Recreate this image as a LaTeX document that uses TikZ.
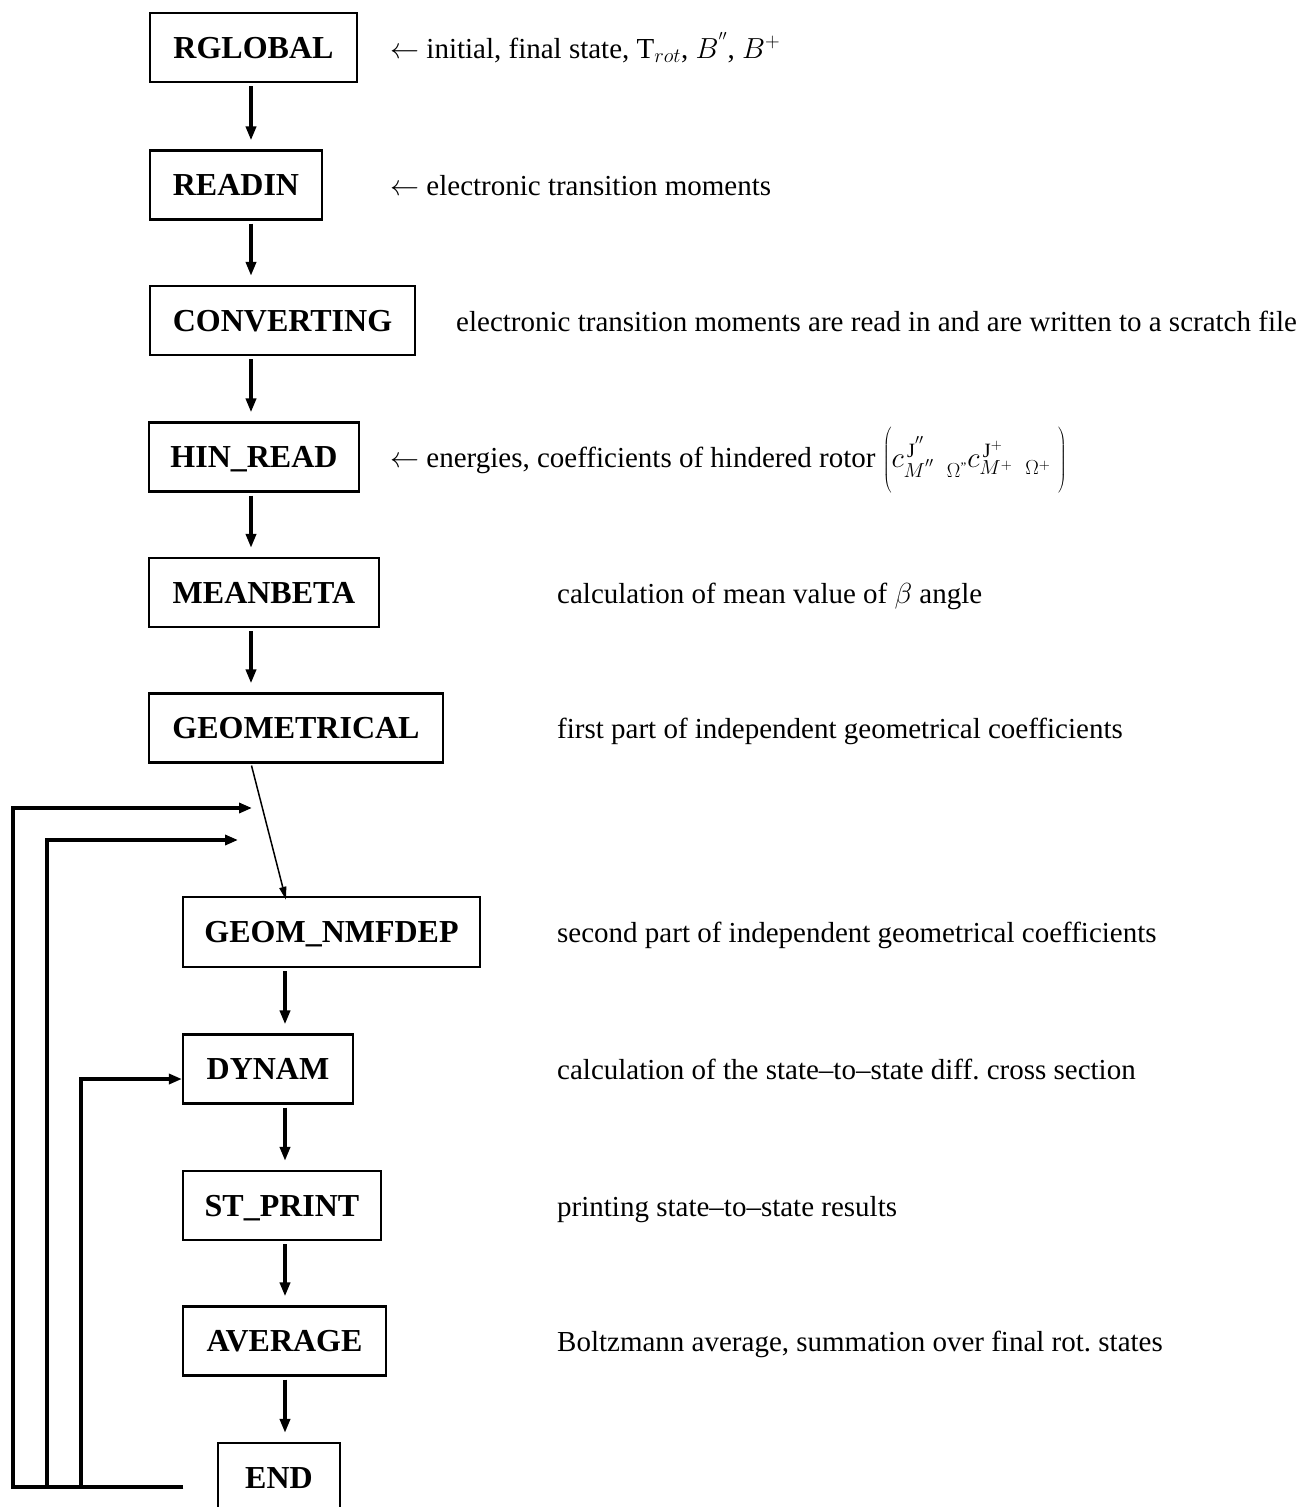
\RequirePackage{fix-cm}
\documentclass[tikz,border=0pt]{standalone}
\usepackage{fontspec}
\setmainfont{Liberation Serif}
\usetikzlibrary{arrows.meta}
\begin{document}
\begin{tikzpicture}[x=1pt,y=-1pt,
  box/.style={draw,line width=2.2pt,inner sep=0pt,font=\fontsize{32}{38}\selectfont\bfseries,
    text height=21.5pt,text depth=0pt,minimum height=69pt},
  lbl/.style={anchor=base west,inner sep=0pt,font=\fontsize{29}{34}\selectfont},
  flow/.style={line width=4pt,-{Triangle[length=14pt,width=10pt]},shorten <=3pt,shorten >=9pt},
  slant/.style={line width=1.5pt,-{Triangle[length=13pt,width=7pt]},shorten <=2pt,shorten >=-4pt},
  loopln/.style={line width=3.5pt,line join=miter,-{Triangle[length=13pt,width=10pt]}}
]
\useasboundingbox (0,0) rectangle (1304,1507);

% boxes
\node[box,minimum width=207pt] (rglobal) at (253.5,47.5) {RGLOBAL};
\node[box,minimum width=172pt] (readin) at (236,185) {READIN};
\node[box,minimum width=265pt] (conv) at (282.5,320.5) {CONVERTING};
\node[box,minimum width=210pt] (hin) at (254,457) {HIN\_READ};
\node[box,minimum width=230pt] (mean) at (264,592.5) {MEANBETA};
\node[box,minimum width=294pt] (geom) at (296,728) {GEOMETRICAL};
\node[box,minimum width=297pt,minimum height=70pt] (nmf) at (331.5,932) {GEOM\_NMFDEP};
\node[box,minimum width=170pt] (dynam) at (268,1069) {DYNAM};
\node[box,minimum width=198pt] (stprint) at (282,1205.5) {ST\_PRINT};
\node[box,minimum width=203pt] (average) at (284.5,1341) {AVERAGE};
\node[box,minimum width=122pt] (end) at (279,1477.5) {END};

% labels
\node[lbl] (l1) at (390,0 |- rglobal.base) {$\leftarrow$ initial, final state, $\mathrm{T}_{rot}$, $B^{''}$, $B^{+}$};
\node[lbl] (l2) at (390,0 |- readin.base) {$\leftarrow$ electronic transition moments};
\node[lbl] (l3) at (456,0 |- conv.base) {electronic transition moments are read in and are written to a scratch file};
\node[lbl] (l4) at (390,0 |- hin.base) {$\leftarrow$ energies, coefficients of hindered rotor
  $\left(\rule[-21pt]{0pt}{62pt}c^{\,\mathrm{J}^{''}}_{M^{''}\ \;\Omega^{\mbox{\fontsize{13}{13}\selectfont "}}}c^{\,\mathrm{J}^{+}}_{M^{+}\ \;\Omega^{+}}\ \right)$};
\node[lbl] (l5) at (557,0 |- mean.base) {calculation of mean value of $\beta$ angle};
\node[lbl] (l6) at (557,0 |- geom.base) {first part of independent geometrical coefficients};
\node[lbl] (l7) at (557,0 |- nmf.base) {second part of independent geometrical coefficients};
\node[lbl] (l8) at (557,0 |- dynam.base) {calculation of the state--to--state diff.\ cross section};
\node[lbl] (l9) at (557,0 |- stprint.base) {printing state--to--state results};
\node[lbl] (l10) at (557,0 |- average.base) {Boltzmann average, summation over final rot.\ states};

% columns
\coordinate (c1) at (251,0);
\coordinate (c2) at (285,0);

\draw[flow] (rglobal.south -| c1) -- (readin.north -| c1);
\draw[flow] (readin.south -| c1) -- (conv.north -| c1);
\draw[flow] (conv.south -| c1) -- (hin.north -| c1);
\draw[flow] (hin.south -| c1) -- (mean.north -| c1);
\draw[flow] (mean.south -| c1) -- (geom.north -| c1);
\draw[slant] (geom.south -| c1) -- (nmf.north -| c2);
\draw[flow] (nmf.south -| c2) -- (dynam.north -| c2);
\draw[flow] (dynam.south -| c2) -- (stprint.north -| c2);
\draw[flow] (stprint.south -| c2) -- (average.north -| c2);
\draw[flow] (average.south -| c2) -- (end.north -| c2);

% loops
\coordinate (foot) at (183,1487);
\coordinate (in1) at (252,808);
\coordinate (in2) at (238,840);
\coordinate (in3) at ([yshift=-10pt]dynam.west);
\coordinate (x1) at (13,0);
\coordinate (x2) at (47,0);
\coordinate (x3) at (81,0);
\draw[loopln] (foot) -| (x1 |- in1) -- (in1);
\draw[loopln] (foot) -| (x2 |- in2) -- (in2);
\draw[loopln] (foot) -| (x3 |- in3) -- (in3);
\end{tikzpicture}
\end{document}
